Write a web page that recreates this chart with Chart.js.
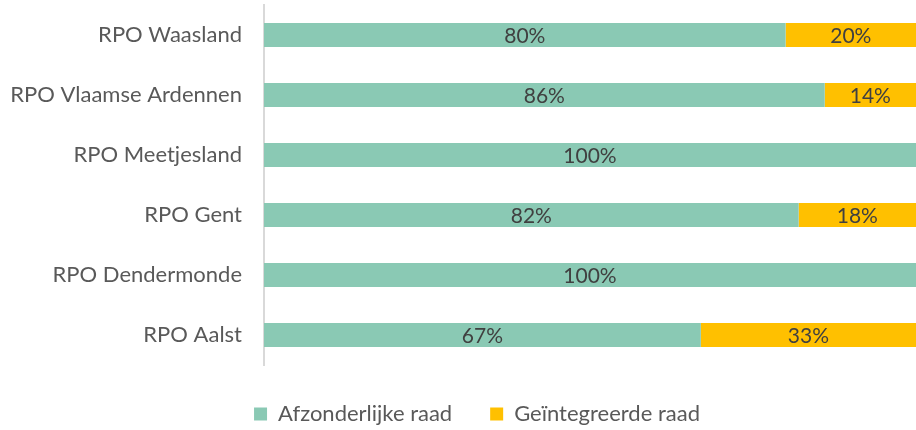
<!DOCTYPE html>
<html>
<head>
<meta charset="utf-8">
<script src="https://cdn.jsdelivr.net/npm/chart.js@4"></script>
<style>
  html, body { margin: 0; padding: 0; background: #fff; }
  #wrap { width: 916px; height: 430px; }
</style>
</head>
<body>
<div id="wrap"><canvas id="rpoChart"></canvas></div>
<script>
var categories = ['RPO Waasland', 'RPO Vlaamse Ardennen', 'RPO Meetjesland', 'RPO Gent', 'RPO Dendermonde', 'RPO Aalst'];
var afzonderlijk = [80, 86, 100, 82, 100, 67];
var geintegreerd = [20, 14, 0, 18, 0, 33];

// draws the % value in the middle of each bar piece
var barLabels = {
    id: 'barLabels',
    afterDatasetsDraw: function (chart) {
        var ctx = chart.ctx;
        ctx.save();
        ctx.font = '21px Lato';
        ctx.fillStyle = '#404040';
        ctx.textAlign = 'center';
        ctx.textBaseline = 'middle';
        chart.data.datasets.forEach(function (ds, i) {
            chart.getDatasetMeta(i).data.forEach(function (bar, j) {
                if (!ds.data[j]) return;
                var x = (bar.x + bar.base) / 2;
                ctx.fillText(ds.data[j] + '%', x, bar.y + 1);
            });
        });
        ctx.restore();
    }
};

// legend in the original sits a bit right of the canvas centre
var legendShift = {
    id: 'legendShift',
    afterLayout: function (chart) {
        chart.legend.left += 38;
    }
};

var ctx = document.getElementById('rpoChart').getContext('2d');
new Chart(ctx, {
    type: 'bar',
    data: {
        labels: categories,
        datasets: [
            {
                label: 'Afzonderlijke raad',
                data: afzonderlijk,
                backgroundColor: '#8AC9B4',
                barPercentage: 0.4,
                categoryPercentage: 1
            },
            {
                label: 'Geïntegreerde raad',
                data: geintegreerd,
                backgroundColor: '#FFC000',
                barPercentage: 0.4,
                categoryPercentage: 1
            }
        ]
    },
    options: {
        indexAxis: 'y',
        responsive: true,
        maintainAspectRatio: false,
        animation: false,
        layout: { padding: { top: 5, right: 0, bottom: -5, left: 0 } },
        scales: {
            x: {
                stacked: true,
                min: 0,
                max: 100,
                display: false
            },
            y: {
                stacked: true,
                grid: { display: false, drawTicks: false },
                border: { color: '#d9d9d9', width: 2 },
                ticks: {
                    color: '#595959',
                    font: { family: 'Lato', size: 22 },
                    padding: 22
                },
                afterFit: function (scale) {
                    scale.width = 264;
                    scale.paddingTop = 0;
                    scale.paddingBottom = 0;
                }
            }
        },
        plugins: {
            tooltip: { enabled: false },
            legend: {
                position: 'bottom',
                labels: {
                    color: '#595959',
                    font: { family: 'Lato', size: 22, lineHeight: 1 },
                    boxWidth: 13,
                    boxHeight: 13,
                    padding: 38
                }
            }
        }
    },
    plugins: [barLabels, legendShift]
});
</script>
</body>
</html>
